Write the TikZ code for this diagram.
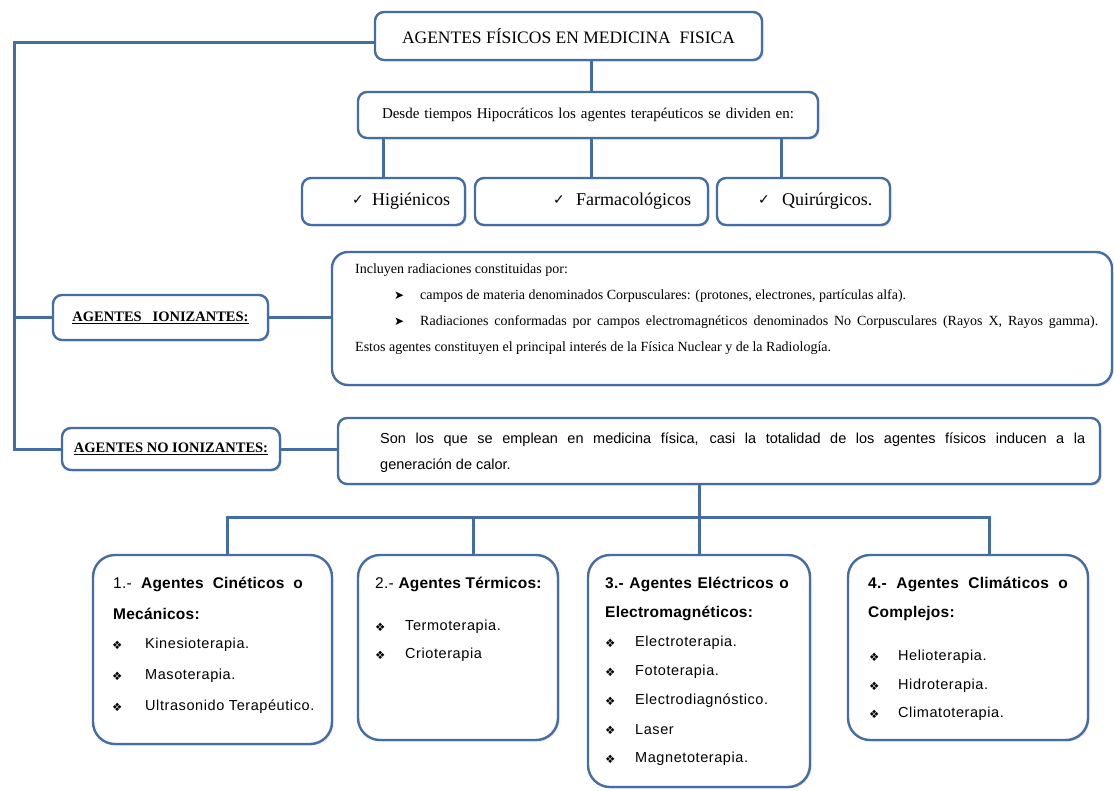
\documentclass[tikz,border=0pt]{standalone}
\usepackage{fontspec}
\setmainfont{Liberation Serif}
\newfontfamily\arial{Liberation Sans}
\newfontfamily\arialls[LetterSpace=4]{Liberation Sans}
\newfontfamily\arialh[LetterSpace=1.5]{Liberation Sans}
\newfontfamily\dejavu{DejaVu Sans}
\usetikzlibrary{shadows,calc}
\definecolor{lb}{RGB}{68,108,165}
\pgfdeclarelayer{bg}
\pgfsetlayers{bg,main}
\newcommand\setfs[1]{\fontsize{#1}{#1}\selectfont}
\tikzset{
  box/.style={draw=lb, line width=2.4pt, rounded corners=9pt, fill=white, inner sep=0pt,
    drop shadow={shadow xshift=1.5pt, shadow yshift=-1.5pt, opacity=0.25, fill=gray}},
  bigbox/.style={box, rounded corners=22pt},
  conn/.style={draw=lb, line width=3pt},
  txt/.style={anchor=west, inner sep=0pt},
  sertxt/.style={txt, font=\setfs{14}},
  sanstxt/.style={txt, font=\arial\setfs{14.5}},
  itemtxt/.style={txt, font=\arialls\setfs{14.5}},
  headtxt/.style={txt, font=\arialh\setfs{15.5}},
  bul/.style={txt, font=\dejavu\setfs{11.5}},
  arr/.style={txt, font=\dejavu\setfs{12}},
  chk/.style={txt, font=\dejavu\setfs{14}},
}
\begin{document}
\begin{tikzpicture}[x=1pt,y=-1pt]
\useasboundingbox (0,0) rectangle (1114,790);
% ---------- top
\node[box, minimum width=387, minimum height=48] (title) at (568.5,36)
  {\setfs{17.5}AGENTES FÍSICOS EN MEDICINA\ \ FISICA};
\node[box, minimum width=460, minimum height=46] (desde) at (588,115)
  {\setfs{15}\makebox[412pt][s]{Desde tiempos Hipocráticos los agentes terapéuticos se dividen en:}};
\node[box, minimum width=163, minimum height=47] (hig) at (383.5,201.5) {};
\node[box, minimum width=233, minimum height=47] (far) at (591.5,201.5) {};
\node[box, minimum width=173, minimum height=47] (qui) at (803.5,201.5) {};
\node[chk] (hc) at (352,200) {✓};
\node[txt, font=\setfs{18}] (ht) at (372,201) {Higiénicos};
\node[chk] (fc) at (553,200) {✓};
\node[txt, font=\setfs{18}] (ft) at (576,201) {Farmacológicos};
\node[chk] (qc) at (758,200) {✓};
\node[txt, font=\setfs{18}] (qt) at (782,201) {Quirúrgicos.};
% ---------- ionizantes
\node[box, minimum width=215, minimum height=45] (ion) at (160.5,317.5)
  {\setfs{14.5}\bfseries\underline{AGENTES\ \ \ IONIZANTES:}};
\node[box, rounded corners=16pt, minimum width=780, minimum height=133] (ionx) at (722,318.5) {};
\node[sertxt] (i1) at (355,270) {Incluyen radiaciones constituidas por:};
\node[arr] (i2b) at (394,296) {➤};
\node[sertxt] (i2) at (420,296) {campos de materia denominados Corpusculares: (protones, electrones, partículas alfa).};
\node[arr] (i3b) at (394,322) {➤};
\node[sertxt] (i3) at (420,322) {\makebox[678pt][s]{Radiaciones conformadas por campos electromagnéticos denominados No Corpusculares (Rayos X, Rayos gamma).}};
\node[sertxt] (i4) at (355,348) {Estos agentes constituyen el principal interés de la Física Nuclear y de la Radiología.};
% ---------- no ionizantes
\node[box, minimum width=218, minimum height=42] (noion) at (171,449)
  {\setfs{14.5}\bfseries\underline{AGENTES NO IONIZANTES:}};
\node[box, minimum width=762, minimum height=66] (son) at (719,451) {};
\node[sanstxt] (s1) at (380,440) {\makebox[705pt][s]{Son los que se emplean en medicina física, casi la totalidad de los agentes físicos inducen a la}};
\node[sanstxt] (s2) at (380,466) {generación de calor.};
% ---------- bottom boxes
\node[bigbox, minimum width=239, minimum height=189] (b1) at (212.5,649.5) {};
\node[bigbox, minimum width=200, minimum height=185] (b2) at (458,647.5) {};
\node[bigbox, minimum width=222, minimum height=232] (b3) at (699,671) {};
\node[bigbox, minimum width=240, minimum height=185] (b4) at (968,647.5) {};
% box 1
\node[headtxt] (b1h) at (113,584) {\makebox[190pt][s]{1.- \textbf{Agentes Cinéticos o}}};
\node[headtxt] (b1h2) at (113,614) {\textbf{Mecánicos:}};
\node[bul] (b1p1) at (112,645) {❖};
\node[itemtxt] (b1t1) at (145,645) {Kinesioterapia.};
\node[bul] (b1p2) at (112,676) {❖};
\node[itemtxt] (b1t2) at (145,676) {Masoterapia.};
\node[bul] (b1p3) at (112,707) {❖};
\node[itemtxt] (b1t3) at (145,707) {Ultrasonido Terapéutico.};
% box 2
\node[headtxt] (b2h) at (375,584) {2.- \textbf{Agentes Térmicos:}};
\node[bul] (b2p1) at (375,627) {❖};
\node[itemtxt] (b2t1) at (405,627) {Termoterapia.};
\node[bul] (b2p2) at (375,655) {❖};
\node[itemtxt] (b2t2) at (405,655) {Crioterapia};
% box 3
\node[headtxt] (b3h) at (605,584) {\makebox[184pt][s]{\textbf{3.- Agentes Eléctricos o}}};
\node[headtxt] (b3h2) at (605,613) {\textbf{Electromagnéticos:}};
\node[bul] (b3p1) at (605,643) {❖};
\node[itemtxt] (b3t1) at (635,643) {Electroterapia.};
\node[bul] (b3p2) at (605,672) {❖};
\node[itemtxt] (b3t2) at (635,672) {Fototerapia.};
\node[bul] (b3p3) at (605,701) {❖};
\node[itemtxt] (b3t3) at (635,701) {Electrodiagnóstico.};
\node[bul] (b3p4) at (605,730) {❖};
\node[itemtxt] (b3t4) at (635,730) {Laser};
\node[bul] (b3p5) at (605,759) {❖};
\node[itemtxt] (b3t5) at (635,759) {Magnetoterapia.};
% box 4
\node[headtxt] (b4h) at (868,584) {\makebox[200pt][s]{\textbf{4.- Agentes Climáticos o}}};
\node[headtxt] (b4h2) at (868,613) {\textbf{Complejos:}};
\node[bul] (b4p1) at (869,657) {❖};
\node[itemtxt] (b4t1) at (898,657) {Helioterapia.};
\node[bul] (b4p2) at (869,686) {❖};
\node[itemtxt] (b4t2) at (898,686) {Hidroterapia.};
\node[bul] (b4p3) at (869,714) {❖};
\node[itemtxt] (b4t3) at (898,714) {Climatoterapia.};
% ---------- connectors
\coordinate (corner) at (14,42);
\coordinate (bar) at (698,517);
\begin{pgfonlayer}{bg}
  \draw[conn] (title.south -| far.north) -- (far.north);
  \draw[conn] (desde.south -| hig.north) -- (hig.north);
  \draw[conn] (desde.south -| qui.north) ++(-22,0) -- ([xshift=-22pt]qui.north);
  \draw[conn] (title.west |- corner) -- (corner) |- (noion.west);
  \draw[conn] (corner |- ion.west) -- (ion.west);
  \draw[conn] (ion.east) -- (ionx.west |- ion.east);
  \draw[conn] (noion.east) -- (son.west |- noion.east);
  \draw[conn] (son.south -| b3.north) -- (b3.north);
  \draw[conn] ([xshift=15pt]b1.north) |- (bar) -| ([xshift=21pt]b4.north);
  \draw[conn] ([xshift=15pt]b2.north) -- ([xshift=15pt]b2.north |- bar);
\end{pgfonlayer}
\end{tikzpicture}
\end{document}
